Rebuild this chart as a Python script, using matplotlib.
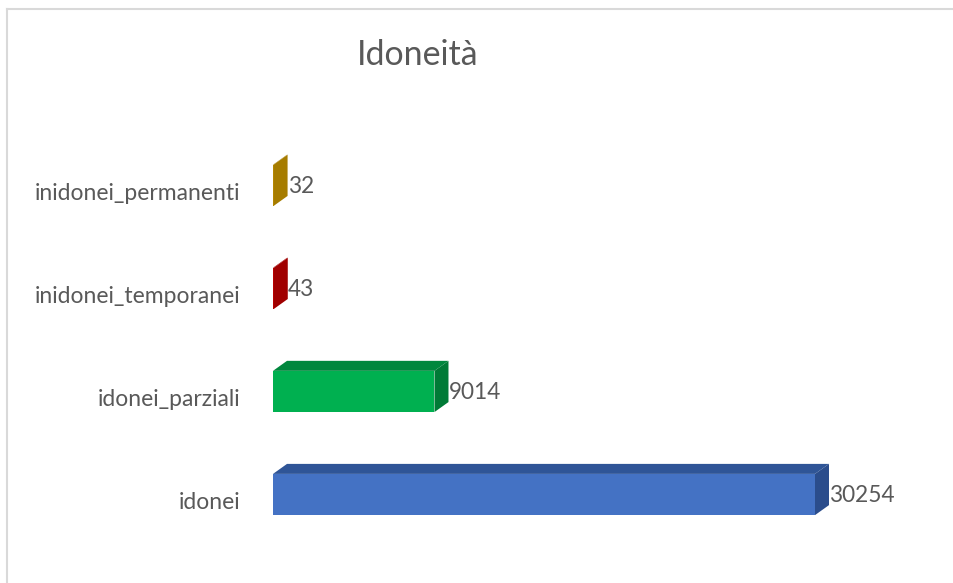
import numpy as np
import matplotlib.pyplot as plt
from matplotlib.patches import Polygon
from matplotlib.lines import Line2D

categories = ['idonei', 'idonei_parziali', 'inidonei_temporanei', 'inidonei_permanenti']
values = [30254, 9014, 43, 32]
front_colors = ['#4472C4', '#00B050', '#C00000', '#BF9000']
top_colors = ['#2F5597', '#00873D', '#A00000', '#A67C00']
side_colors = ['#2B4D8C', '#007A36', '#A00000', '#A67C00']

plt.rcParams['font.family'] = ['Lato', 'DejaVu Sans']

W, H = 954, 583
fig = plt.figure(figsize=(W / 100, H / 100), dpi=100)

# axes placed in pixel terms
ax_l, ax_r = 273, 873
ax_top, ax_bot = 140, 545
ax = fig.add_axes([ax_l / W, 1 - ax_bot / H, (ax_r - ax_l) / W, (ax_bot - ax_top) / H])
xmax = max(values) * (ax_r - ax_l) / 542
ax.set_xlim(0, xmax)
ax.set_ylim(-0.49, 3.44)
ax.axis('off')

# 3D depth offset (pixels -> data)
dx_px, dy_px = 14, 10
dx = dx_px * xmax / (ax_r - ax_l)
dy = dy_px * (3.44 + 0.49) / (ax_bot - ax_top)
h = 0.4
ypos = np.arange(len(categories))

ax.barh(ypos, values, height=h, color=front_colors, zorder=2)
for y, v, tc, sc in zip(ypos, values, top_colors, side_colors):
    top = [(0, y + h / 2), (v, y + h / 2), (v + dx, y + h / 2 + dy), (dx, y + h / 2 + dy)]
    side = [(v, y - h / 2), (v + dx, y - h / 2 + dy), (v + dx, y + h / 2 + dy), (v, y + h / 2)]
    ax.add_patch(Polygon(top, closed=True, color=tc, zorder=3, lw=0))
    ax.add_patch(Polygon(side, closed=True, color=sc, zorder=3, lw=0))
    ax.text(v + dx, y - 0.01, str(v), va='center', ha='left',
            fontsize=16.3, color='#595959')

for y, c in zip(ypos, categories):
    ax.text(-33 * xmax / (ax_r - ax_l), y - 0.08, c, va='center', ha='right',
            fontsize=16.5, color='#595959')

fig.text(418 / W, 1 - 55 / H, 'Idoneità', ha='center', va='center',
         fontsize=24.4, color='#595959')

# chart area border (top and left visible)
fig.add_artist(Line2D([7 / W, 1], [1 - 9 / H, 1 - 9 / H], color='#D9D9D9', lw=1.5))
fig.add_artist(Line2D([7 / W, 7 / W], [0, 1 - 9 / H], color='#D9D9D9', lw=1.5))

fig.savefig('out.png', dpi=100)
